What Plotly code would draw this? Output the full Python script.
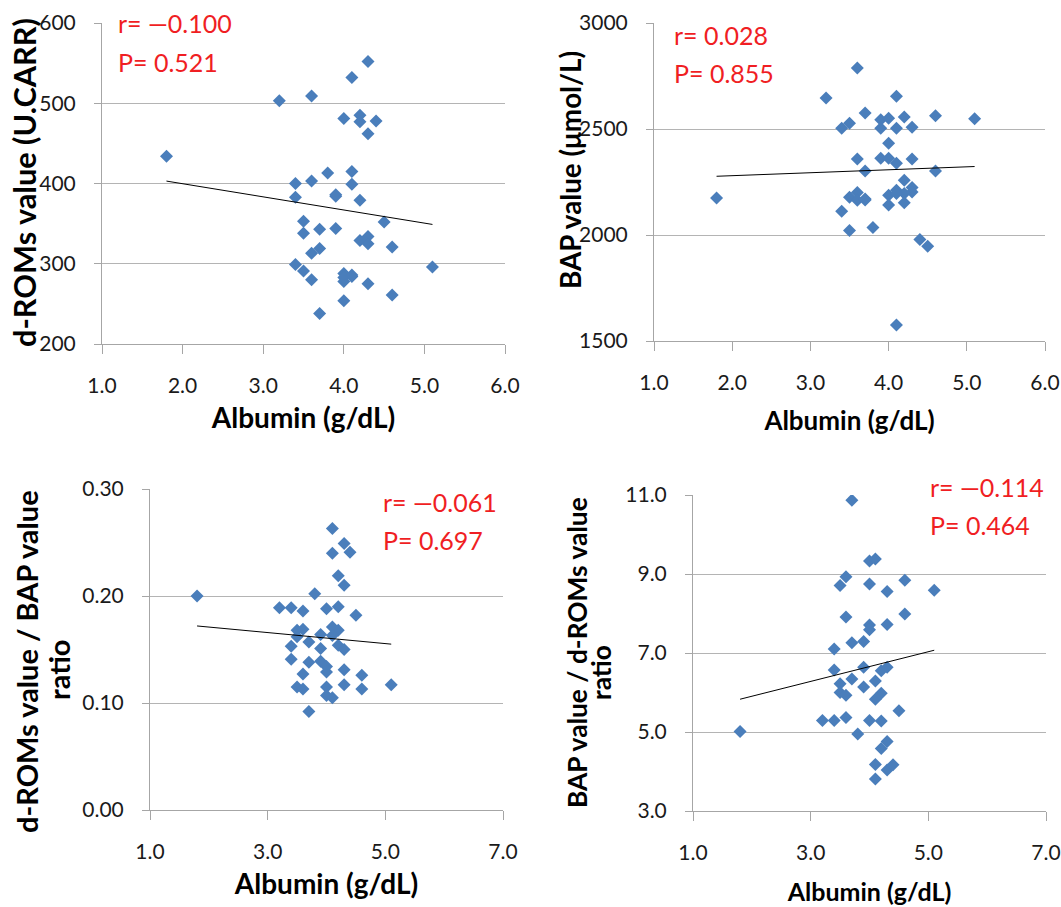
import plotly.graph_objects as go

# ---------------- data ----------------
alb1 = [1.8, 3.2, 3.6, 4.1, 4.3, 4.0, 4.2, 4.2, 4.4, 4.3, 3.8, 4.1, 3.4, 3.6, 4.1,
        3.4, 3.9, 3.9, 4.2, 3.5, 4.5, 3.5, 3.7, 3.9, 4.2, 4.3, 4.3, 4.6, 3.6, 3.7,
        3.4, 5.1, 3.5, 3.6, 4.0, 4.0, 4.1, 4.3, 4.6, 4.0, 3.7, 4.0, 4.1]
droms = [434, 503, 509, 532, 552, 481, 485, 477, 478, 462, 413, 415, 400, 403, 399,
         383, 384, 386, 379, 353, 352, 338, 343, 344, 329, 334, 325, 321, 313, 319,
         299, 296, 291, 280, 288, 278, 284, 275, 261, 254, 238, 283, 286]

alb2 = [1.8, 3.2, 3.6, 4.1, 3.7, 3.4, 3.5, 3.9, 3.9, 4.0, 4.1, 4.2, 4.3, 4.6, 5.1,
        4.0, 3.6, 3.9, 4.0, 4.1, 4.3, 3.7, 4.6, 4.2, 4.3, 4.3, 3.5, 3.6, 3.6, 3.7,
        4.0, 4.1, 4.2, 4.2, 4.0, 3.4, 3.5, 3.8, 4.4, 4.5, 4.1, 4.1, 3.7]
bap = [2174, 2646, 2788, 2654, 2576, 2504, 2527, 2544, 2504, 2551, 2504, 2557, 2508, 2562, 2548,
       2433, 2359, 2362, 2362, 2339, 2359, 2302, 2302, 2258, 2224, 2203, 2178, 2200, 2164, 2170,
       2188, 2211, 2196, 2152, 2142, 2112, 2021, 2035, 1979, 1947, 1575, 2196, 2165]

alb3 = [1.8, 3.2, 3.4, 3.6, 3.8, 4.0, 4.2, 4.5, 4.1, 4.1, 4.3, 4.4, 4.2, 4.3, 3.5,
        3.6, 3.5, 3.9, 4.1, 4.2, 4.1, 3.7, 3.4, 3.9, 4.2, 4.3, 3.4, 3.7, 3.9, 4.0,
        4.0, 3.6, 4.3, 4.6, 3.5, 3.6, 4.0, 4.3, 4.6, 5.1, 4.0, 4.1, 3.7]
ratio_db = [0.200, 0.189, 0.189, 0.186, 0.202, 0.188, 0.190, 0.182, 0.263, 0.240, 0.249, 0.241,
            0.219, 0.210, 0.168, 0.169, 0.162, 0.164, 0.171, 0.168, 0.163, 0.157, 0.153, 0.151,
            0.154, 0.150, 0.141, 0.138, 0.139, 0.134, 0.129, 0.127, 0.131, 0.126, 0.115, 0.113,
            0.115, 0.117, 0.113, 0.117, 0.107, 0.105, 0.092]

alb4 = [1.8, 3.7, 4.0, 4.1, 3.6, 3.5, 4.0, 4.3, 4.6, 5.1, 3.6, 4.6, 4.0, 4.0, 4.3,
        3.4, 3.7, 3.9, 3.4, 3.9, 4.2, 4.3, 3.5, 3.7, 3.9, 4.1, 3.5, 3.6, 4.2, 4.1,
        4.5, 3.2, 3.4, 3.6, 4.0, 4.2, 3.8, 4.3, 4.2, 4.1, 4.3, 4.4, 4.1]
ratio_bd = [5.01, 10.87, 9.33, 9.38, 8.93, 8.71, 8.75, 8.56, 8.84, 8.59, 7.91, 7.99, 7.71, 7.59, 7.72,
            7.10, 7.26, 7.29, 6.57, 6.64, 6.55, 6.64, 6.22, 6.34, 6.14, 6.29, 6.00, 5.93, 5.98, 5.83,
            5.54, 5.29, 5.29, 5.37, 5.29, 5.28, 4.95, 4.76, 4.58, 4.18, 4.04, 4.17, 3.81]

# linear trend lines (end points)
trend1_x, trend1_y = [1.8, 5.1], [403, 349]
trend2_x, trend2_y = [1.8, 5.1], [2277, 2323]
trend3_x, trend3_y = [1.8, 5.1], [0.172, 0.155]
trend4_x, trend4_y = [1.8, 5.1], [5.83, 7.07]

stats_r = ["r= \u20140.100", "r= 0.028", "r= \u20140.061", "r= \u20140.114"]
stats_p = ["P= 0.521", "P= 0.855", "P= 0.697", "P= 0.464"]

x_title = "Albumin (g/dL)"
# y titles: list of lines per panel
y_titles = [["d-ROMs value (U.CARR)"], ["BAP value (\u03bcmol/L)"],
            ["d-ROMs value / BAP value", "ratio"], ["BAP value / d-ROMs value", "ratio"]]

# ---------------- layout helpers ----------------
W, H = 1061, 907
FONT = "Lato"
BLUE = "#4a7ebb"
RED = "#f01e23"
GRID = "#b4b4b4"
AXIS = "#a6a6a6"


def px(x):
    return x / W


def py(y):
    return 1 - y / H


# plot areas in pixels: (left, right, top, bottom)
areas = [(102, 505, 23, 344), (654, 1045, 23, 341), (150, 503, 489, 810), (693, 1046, 495, 811)]

fig = go.Figure()

series = [(alb1, droms, trend1_x, trend1_y), (alb2, bap, trend2_x, trend2_y),
          (alb3, ratio_db, trend3_x, trend3_y), (alb4, ratio_bd, trend4_x, trend4_y)]

for i, (xs, ys, tx, ty) in enumerate(series):
    xa = "x" if i == 0 else f"x{i+1}"
    ya = "y" if i == 0 else f"y{i+1}"
    fig.add_trace(go.Scatter(x=xs, y=ys, mode="markers", xaxis=xa, yaxis=ya,
                             marker=dict(symbol="diamond", size=10, color=BLUE, line=dict(width=0)),
                             showlegend=False, hoverinfo="x+y"))
    fig.add_trace(go.Scatter(x=tx, y=ty, mode="lines", xaxis=xa, yaxis=ya,
                             line=dict(color="black", width=1), showlegend=False, hoverinfo="skip"))

x_ranges = [[1, 6], [1, 6], [1, 7], [1, 7]]
x_dticks = [1, 1, 2, 2]
y_ranges = [[200, 600], [1500, 3000], [0, 0.3], [3, 11]]
y_dticks = [100, 500, 0.1, 2]
y_formats = ["d", "d", ".2f", ".1f"]
x_title_sizes = [28, 26, 28, 25]
x_title_standoffs = [12, 18, 12, 20]
y_title_sizes = [30.7, 27.8, 29, 26.3]
# y-title line centres in pixels: list of (x, y) per line
y_title_pos = [[(24, 183)], [(570, 170)], [(26, 662), (58, 670)], [(577, 653), (601, 673)]]

tickfont = dict(family=FONT, size=21, color="#1a1a1a")

for i, (l, r, t, b) in enumerate(areas):
    xk = "xaxis" if i == 0 else f"xaxis{i+1}"
    yk = "yaxis" if i == 0 else f"yaxis{i+1}"
    xa_anchor = "y" if i == 0 else f"y{i+1}"
    ya_anchor = "x" if i == 0 else f"x{i+1}"
    fig.layout[xk] = dict(domain=[px(l), px(r)], anchor=xa_anchor, range=x_ranges[i],
                          tick0=1, dtick=x_dticks[i], tickformat=".1f", automargin=False,
                          showgrid=False, zeroline=False, showline=True, linecolor=AXIS, linewidth=1,
                          ticks="outside", ticklen=9, tickcolor=AXIS, tickwidth=1,
                          ticklabelstandoff=14, tickfont=tickfont,
                          title=dict(text=x_title, standoff=x_title_standoffs[i],
                                     font=dict(family=FONT, size=x_title_sizes[i], color="black",
                                               weight="bold")))
    fig.layout[yk] = dict(domain=[py(b), py(t)], anchor=ya_anchor, range=y_ranges[i],
                          tick0=y_ranges[i][0], dtick=y_dticks[i], tickformat=y_formats[i],
                          automargin=False,
                          showgrid=True, gridcolor=GRID, gridwidth=1, zeroline=False,
                          showline=True, linecolor=AXIS, linewidth=1,
                          ticks="outside", ticklen=7, tickcolor=AXIS, tickwidth=1,
                          ticklabelstandoff=14, tickfont=tickfont)
    # y-axis title (rotated text, one annotation per line)
    for line_text, (cx, cy) in zip(y_titles[i], y_title_pos[i]):
        fig.add_annotation(x=px(cx), y=py(cy), xref="paper", yref="paper", text=line_text,
                           textangle=-90, xanchor="center", yanchor="middle", showarrow=False,
                           font=dict(family=FONT, size=y_title_sizes[i], color="black",
                                     weight="bold"))

# white text boxes behind the statistics (they hide part of the top gridline)
covers = [(104, 257, 15, 31), (656, 807, 15, 31), (372, 510, 481, 497), (918, 1050, 487, 503)]
for (x0, x1, y0, y1) in covers:
    fig.add_shape(type="rect", xref="paper", yref="paper", x0=px(x0), x1=px(x1),
                  y0=py(y1), y1=py(y0), fillcolor="white", line=dict(width=0), layer="above")

# statistics text: (left x, centre of r line, centre of P line)
stat_pos = [(116, 23, 62), (672, 35, 73), (381, 502, 540), (928, 487, 525)]
for i, (lx, ry, pyy) in enumerate(stat_pos):
    for txt, cy in ((stats_r[i], ry), (stats_p[i], pyy)):
        fig.add_annotation(x=px(lx), y=py(cy), xref="paper", yref="paper", text=txt,
                           xanchor="left", yanchor="middle", showarrow=False,
                           font=dict(family=FONT, size=25, color=RED))

fig.update_layout(width=W, height=H, margin=dict(l=0, r=0, t=0, b=0),
                  paper_bgcolor="white", plot_bgcolor="white",
                  font=dict(family=FONT))

fig.write_html("out.html", config={"displayModeBar": False},
               post_script="document.body.style.margin = '0';")
